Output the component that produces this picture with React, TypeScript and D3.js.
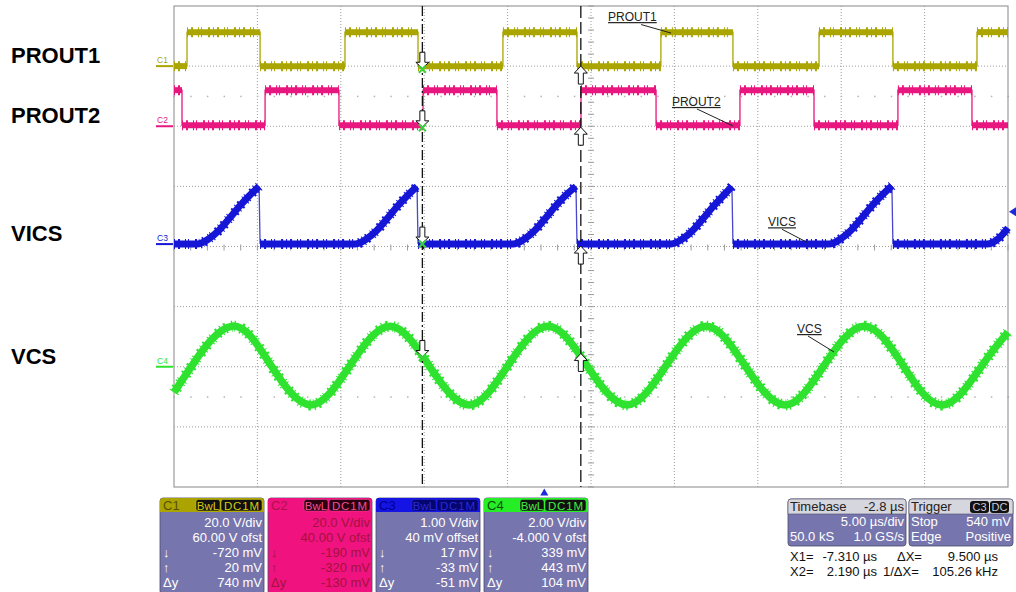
import { useEffect } from "react";
import * as d3 from "d3";

type Pt = [number, number];

// ---- values: time in µs, level in volts of each channel ----
const timeWindow: Pt = [-22.2, 27.8];

const prout1: Pt[] = [
  [-22.2, 0], [-21.42, 11.3], [-17.04, 0], [-11.95, 11.3], [-7.57, 0],
  [-2.48, 11.3], [1.96, 0], [6.99, 11.3], [11.31, 0], [16.47, 11.3],
  [20.9, 0], [25.94, 11.3], [27.8, 11.3],
];

const prout2: Pt[] = [
  [-22.2, 12], [-21.72, 0.3], [-16.74, 12], [-12.31, 0.3], [-7.27, 12],
  [-2.84, 0.3], [2.2, 12], [6.7, 0.3], [11.73, 12], [16.17, 0.3],
  [21.2, 12], [25.64, 0.3], [27.8, 0.3],
];

const vics: Pt[] = [
  [-22.2, 0], [-20.82, 0], [-20.1, 0.09], [-19.5, 0.23], [-18.9, 0.42], [-18.3, 0.62], [-17.7, 0.8], [-17.1, 0.96], [-17.04, 0],
  [-11.35, 0], [-10.63, 0.09], [-10.03, 0.23], [-9.43, 0.42], [-8.83, 0.62], [-8.23, 0.8], [-7.63, 0.96], [-7.57, 0],
  [-1.88, 0], [-1.16, 0.09], [-0.56, 0.23], [0.04, 0.42], [0.64, 0.62], [1.24, 0.8], [1.9, 0.96], [1.96, 0],
  [7.59, 0], [8.31, 0.09], [8.91, 0.23], [9.51, 0.42], [10.11, 0.62], [10.71, 0.8], [11.25, 0.96], [11.31, 0],
  [17.07, 0], [17.79, 0.09], [18.39, 0.23], [18.99, 0.42], [19.59, 0.62], [20.19, 0.8], [20.84, 0.97], [20.9, 0],
  [26.54, 0], [27.26, 0.1], [27.8, 0.27],
];

const vcs: Pt[] = [
  [-22.2, -0.85], [-21.12, 0.04], [-18.72, 1.35], [-16.38, 0.04], [-13.99, -1.27],
  [-11.65, 0.04], [-9.25, 1.35], [-6.91, 0.04], [-4.51, -1.27], [-2.18, 0.04],
  [0.22, 1.35], [2.56, 0.04], [4.96, -1.27], [7.3, 0.04], [9.69, 1.35],
  [12.03, 0.04], [14.43, -1.27], [16.77, 0.04], [19.17, 1.35], [21.51, 0.04],
  [23.9, -1.27], [26.24, 0.04], [27.8, 1.15],
];

// channel setup (from the readout boxes)
const chNames = ["C1", "C2", "C3", "C4"];
const chVdiv = [20, 20, 1, 2];
const chOffset = [60, 40, 0.04, -4];
const vdivText = ["20.0 V/div", "20.0 V/div", "1.00 V/div", "2.00 V/div"];
const offsetText = ["60.00 V ofst", "40.00 V ofst", "40 mV offset", "-4.000 V ofst"];
const downMv = [-720, -190, 17, 339];
const upMv = [20, -320, -33, 443];
const deltaMv = [740, -130, -51, 104];

const signalNames = ["PROUT1", "PROUT2", "VICS", "VCS"];
const cursorX1 = -7.31;
const cursorX2 = 2.19;
const triggerMv = 540;

const timebaseRows = [["Timebase", "-2.8 µs"], ["", "5.00 µs/div"], ["50.0 kS", "1.0 GS/s"]];
const triggerRows = [["Trigger", ""], ["Stop", "540 mV"], ["Edge", "Positive"]];
const cursorRows = [
  ["X1=", "-7.310 µs", "ΔX=", "9.500 µs"],
  ["X2=", "2.190 µs", "1/ΔX=", "105.26 kHz"],
];

// ---- styles ----
const FONT = "'Liberation Sans', Arial, Helvetica, sans-serif";
const traceColor = ["#aaa500", "#e8177f", "#1616d6", "#2fe22f"];
const headColor = ["#aaa300", "#f0127f", "#1414e4", "#26ee26"];
const headText = ["#585200", "#b0104c", "#00008a", "#0b4d0b"];
const badgeFill = ["#111", "#2a0010", "#050570", "#111"];
const badgeText = ["#d2cc10", "#f0509a", "#2a2ad8", "#40f040"];
const bodyFill = ["#7775ad", "#f0127f", "#7775ad", "#7775ad"];
const bodyText = ["#fff", "#a3123e", "#fff", "#fff"];
const LAV = "#7775ad";

const plotL = 174, plotR = 1008, plotT = 6, plotB = 487;

const x = d3.scaleLinear().domain(timeWindow).range([plotL, plotR]);
const xDiv = d3.scaleLinear().domain([0, 10]).range([plotL, plotR]);
const yDiv = d3.scaleLinear().domain([-4, 4]).range([plotB, plotT]);
const yCh = (ch: number, v: number) => yDiv((v + chOffset[ch]) / chVdiv[ch]);

const noiseDash = "1 3 2 5 1 2 1 6 2 3";

function Square({ data, ch }: { data: Pt[]; ch: number }) {
  const thin = d3
    .line<Pt>()
    .x((d) => x(d[0]))
    .y((d) => yCh(ch, d[1]))
    .curve(d3.curveStepAfter)(data)!;
  const levels = data.slice(0, -1).map((p, i) => [p, [data[i + 1][0], p[1]]] as Pt[]);
  const seg = d3.line<Pt>().x((d) => x(d[0])).y((d) => yCh(ch, d[1]));
  return (
    <g>
      <path d={thin} fill="none" stroke={traceColor[ch]} strokeWidth={1.3} />
      {levels.map((l, i) => (
        <g key={i}>
          <path d={seg(l)!} stroke={traceColor[ch]} strokeWidth={6} />
          <path d={seg(l)!} stroke={traceColor[ch]} strokeWidth={10} strokeDasharray={noiseDash} />
        </g>
      ))}
    </g>
  );
}

function Vics() {
  const ch = 2;
  const pieces: Pt[][] = [[vics[0]]];
  const drops: Pt[][] = [];
  for (let i = 1; i < vics.length; i++) {
    const a = vics[i - 1], b = vics[i];
    if (b[0] - a[0] < 0.1 && a[1] - b[1] > 0.3) {
      drops.push([a, b]);
      pieces.push([b]);
    } else pieces[pieces.length - 1].push(b);
  }
  const smooth = d3
    .line<Pt>()
    .x((d) => x(d[0]))
    .y((d) => yCh(ch, d[1]))
    .curve(d3.curveMonotoneX);
  return (
    <g>
      {drops.map((d, i) => (
        <line key={i} x1={x(d[0][0])} y1={yCh(ch, d[0][1])} x2={x(d[0][0]) + 1} y2={yCh(ch, d[1][1])}
          stroke="#4848c8" strokeWidth={1.3} />
      ))}
      {pieces.map((p, i) => (
        <g key={i}>
          <path d={smooth(p)!} fill="none" stroke={traceColor[ch]} strokeWidth={7} strokeLinejoin="round" />
          <path d={smooth(p)!} fill="none" stroke={traceColor[ch]} strokeWidth={10} strokeDasharray={noiseDash} />
        </g>
      ))}
    </g>
  );
}

function Vcs() {
  const ch = 3;
  const d = d3
    .line<Pt>()
    .x((p) => x(p[0]))
    .y((p) => yCh(ch, p[1]))
    .curve(d3.curveNatural)(vcs)!;
  return (
    <g>
      <path d={d} fill="none" stroke={traceColor[ch]} strokeWidth={7.5} />
      <path d={d} fill="none" stroke={traceColor[ch]} strokeWidth={11} strokeDasharray={noiseDash} />
    </g>
  );
}

const downArrow = (cx: number, ty: number) =>
  `M${cx},${ty}L${cx - 6.5},${ty - 6}L${cx - 2.5},${ty - 6}L${cx - 2.5},${ty - 16}L${cx + 2.5},${ty - 16}L${cx + 2.5},${ty - 6}L${cx + 6.5},${ty - 6}Z`;
const upArrow = (cx: number, ty: number) =>
  `M${cx},${ty}L${cx - 6.5},${ty + 7}L${cx - 2.5},${ty + 7}L${cx - 2.5},${ty + 18}L${cx + 2.5},${ty + 18}L${cx + 2.5},${ty + 7}L${cx + 6.5},${ty + 7}Z`;

// leader-line notes: end point in data coords, text offset from it
const notes = [
  { ch: 0, t: 7.6, v: 11.0, dx: -63, dy: -12, sx: -30, sy: -8.5 },
  { ch: 1, t: 11.31, v: 0.1, dx: -61, dy: -20, sx: -36, sy: -17 },
  { ch: 2, t: 15.75, v: 0.03, dx: -39, dy: -16, sx: -25, sy: -13 },
  { ch: 3, t: 17.37, v: 0.49, dx: -37, dy: -19, sx: -26, sy: -16 },
];

function ChannelBox({ i }: { i: number }) {
  const bx = 160 + i * 108, by = 498, bw = 104, bh = 96;
  const rows = [
    ["", vdivText[i]],
    ["", offsetText[i]],
    ["↓", `${downMv[i]} mV`],
    ["↑", `${upMv[i]} mV`],
    ["Δy", `${deltaMv[i]} mV`],
  ];
  return (
    <g fontFamily={FONT}>
      <rect x={bx} y={by} width={bw} height={bh} rx={3} fill={bodyFill[i]} stroke="#4a4a6a" strokeWidth={0.8} />
      <path d={`M${bx + 3},${by}H${bx + bw - 3}Q${bx + bw},${by} ${bx + bw},${by + 3}V${by + 14}H${bx}V${by + 3}Q${bx},${by} ${bx + 3},${by}Z`}
        fill={headColor[i]} />
      <text x={bx + 3} y={by + 12} fontSize={13} fill={headText[i]}>{chNames[i]}</text>
      <rect x={bx + 36} y={by + 1.5} width={24} height={11.5} rx={2.5} fill={badgeFill[i]} stroke={badgeText[i]} strokeWidth={0.5} />
      <text x={bx + 48} y={by + 11.5} fontSize={11.5} textAnchor="middle" fill={badgeText[i]}>BwL</text>
      <rect x={bx + 61} y={by + 1.5} width={41} height={11.5} rx={2.5} fill={badgeFill[i]} stroke={badgeText[i]} strokeWidth={0.5} />
      <text x={bx + 81.5} y={by + 11.5} fontSize={11.5} textAnchor="middle" fill={badgeText[i]} textLength={35}>DC1M</text>
      {rows.map((r, k) => (
        <g key={k} fontSize={13} fill={bodyText[i]}>
          <text x={bx + 3} y={by + 29 + k * 15}>{r[0]}</text>
          <text x={bx + bw - 2} y={by + 29 + k * 15} textAnchor="end">{r[1]}</text>
        </g>
      ))}
    </g>
  );
}

function InfoBox({ bx, rows, badges }: { bx: number; rows: string[][]; badges?: string[] }) {
  const by = 499, bw = bx > 900 ? 104 : 118, bh = 47;
  return (
    <g fontFamily={FONT} fontSize={13}>
      <rect x={bx} y={by} width={bw} height={bh} rx={3} fill={LAV} stroke="#4a4a6a" strokeWidth={0.8} />
      <path d={`M${bx + 3},${by}H${bx + bw - 3}Q${bx + bw},${by} ${bx + bw},${by + 3}V${by + 15}H${bx}V${by + 3}Q${bx},${by} ${bx + 3},${by}Z`}
        fill="#d6d6de" stroke="#4a4a6a" strokeWidth={0.6} />
      {rows.map((r, k) => (
        <g key={k} fill={k === 0 ? "#222" : "#fff"}>
          <text x={bx + 2} y={by + 12 + k * 15}>{r[0]}</text>
          <text x={bx + bw - 2} y={by + 12 + k * 15} textAnchor="end">{r[1]}</text>
        </g>
      ))}
      {badges &&
        badges.map((b, k) => (
          <g key={b}>
            <rect x={bx + 61 + k * 20} y={by + 2} width={19} height={12} rx={3} fill="#111" />
            <text x={bx + 70.5 + k * 20} y={by + 12} fontSize={11} textAnchor="middle" fill="#c8c8d8">{b}</text>
          </g>
        ))}
    </g>
  );
}

export default function App() {
  useEffect(() => {
    document.body.style.margin = "0";
  }, []);

  const gridX = d3.range(1, 10).map((i) => xDiv(i));
  const gridY = d3.range(-3, 4).map((i) => yDiv(i));
  const minorX = d3.range(0, 50.01, 1).map((i) => xDiv(i / 5));
  const minorY = d3.range(-20, 20.01, 1).map((i) => yDiv(i / 5));
  const cx = xDiv(5), cy = yDiv(0);
  const halfRows = [yDiv(2.5), yDiv(-2.5)];
  const x1 = x(cursorX1), x2 = x(cursorX2);
  const trigY = yCh(2, triggerMv / 1000);

  return (
    <svg width={1016} height={592} style={{ position: "absolute", left: 0, top: 0, display: "block", background: "#fff" }}>
      <rect width={1016} height={592} fill="#fff" />

      {/* graticule */}
      <g stroke="#9c9c9c" strokeWidth={1} strokeDasharray="1 2">
        {gridX.map((gx, i) => (
          <line key={"gx" + i} x1={gx} x2={gx} y1={plotT} y2={plotB} />
        ))}
        {gridY.map((gy, i) => (
          <line key={"gy" + i} x1={plotL} x2={plotR} y1={gy} y2={gy} />
        ))}
      </g>
      <g stroke="#9c9c9c" strokeWidth={1}>
        {minorX.map((mx, i) => (
          <line key={"tx" + i} x1={mx} x2={mx} y1={cy - 2} y2={cy + 4} />
        ))}
        {minorY.map((my, i) => (
          <line key={"ty" + i} x1={cx - 3} x2={cx + 3} y1={my} y2={my} />
        ))}
      </g>
      <g fill="#b4b4b4">
        {halfRows.map((hy, r) =>
          minorX.map((mx, i) => <rect key={r + "-" + i} x={mx - 0.5} y={hy - 0.5} width={1.5} height={1.5} />)
        )}
      </g>
      <rect x={plotL} y={plotT} width={plotR - plotL} height={plotB - plotT} fill="none" stroke="#9c9c9c" strokeWidth={1.2} />

      {/* channel ground markers */}
      {chNames.map((c, i) => (
        <g key={c} fontFamily={FONT}>
          <text x={157} y={yCh(i, 0) - 3} fontSize={8.5} fill={traceColor[i]}>{c}</text>
          <line x1={156} x2={173} y1={yCh(i, 0)} y2={yCh(i, 0)} stroke={traceColor[i]} strokeWidth={2} />
        </g>
      ))}

      {/* traces */}
      <Square data={prout1} ch={0} />
      <Square data={prout2} ch={1} />
      <Vics />
      <Vcs />

      {/* cursors */}
      <line x1={x1} x2={x1} y1={plotT} y2={plotB} stroke="#111" strokeWidth={1.3} strokeDasharray="10 3 2 3" />
      <line x1={x2} x2={x2} y1={plotT} y2={plotB} stroke="#111" strokeWidth={1.3} strokeDasharray="12 4" />
      {chNames.map((c, i) => {
        const yd = yCh(i, downMv[i] / 1000);
        const yu = yCh(i, upMv[i] / 1000);
        return (
          <g key={"cur" + c}>
            <path d={downArrow(x1, yd)} fill="#fff" stroke="#111" strokeWidth={1} />
            <g stroke="#3bd23b" strokeWidth={2}>
              <line x1={x1 - 3.5} x2={x1 + 3.5} y1={yd - 2.5} y2={yd + 4.5} />
              <line x1={x1 + 3.5} x2={x1 - 3.5} y1={yd - 2.5} y2={yd + 4.5} />
            </g>
            <path d={upArrow(x2, yu)} fill="#fff" stroke="#111" strokeWidth={1} />
          </g>
        );
      })}

      {/* trigger markers */}
      <path d={`M${x(0)},${plotB + 1.5}l4,7h-8z`} fill="#1c2ad8" />
      <path d={`M${plotR + 1},${trigY}l7,-4.5v9z`} fill="#1c2ad8" />

      {/* leader notes */}
      {notes.map((n, i) => {
        const ex = x(n.t), ey = yCh(n.ch, n.v);
        return (
          <g key={"n" + i} fontFamily={FONT}>
            <text x={ex + n.dx} y={ey + n.dy} fontSize={12} fill="#222" textDecoration="underline">{signalNames[i]}</text>
            <line x1={ex + n.sx} y1={ey + n.sy} x2={ex} y2={ey} stroke="#222" strokeWidth={1} />
          </g>
        );
      })}

      {/* signal names on the left */}
      {signalNames.map((s, i) => (
        <text key={s} x={11} y={yCh(i, 0) - 3} fontFamily={FONT} fontWeight="bold" fontSize={22} fill="#000">{s}</text>
      ))}

      {/* readouts */}
      {chNames.map((c, i) => (
        <ChannelBox key={"box" + c} i={i} />
      ))}
      <InfoBox bx={788} rows={timebaseRows} />
      <InfoBox bx={909} rows={triggerRows} badges={["C3", "DC"]} />
      <g fontFamily={FONT} fontSize={13} fill="#111">
        {cursorRows.map((r, k) => (
          <g key={"cr" + k}>
            <text x={790} y={561 + k * 15}>{r[0]}</text>
            <text x={877} y={561 + k * 15} textAnchor="end">{r[1]}</text>
            <text x={k === 0 ? 897 : 883} y={561 + k * 15}>{r[2]}</text>
            <text x={998} y={561 + k * 15} textAnchor="end">{r[3]}</text>
          </g>
        ))}
      </g>
    </svg>
  );
}
